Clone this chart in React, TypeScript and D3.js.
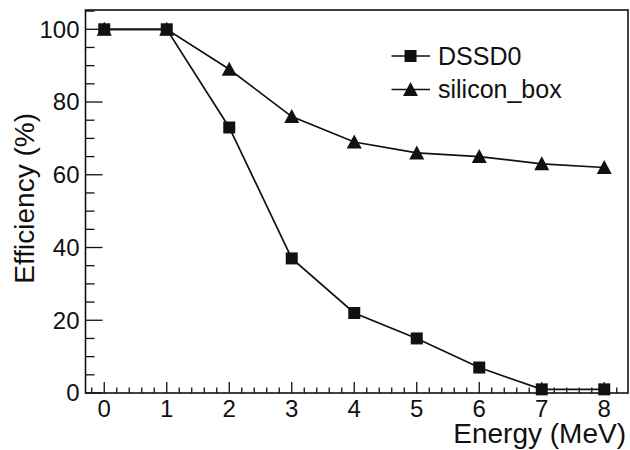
import React, { useEffect, useRef } from 'react';
import * as d3 from 'd3';

const energies = [0, 1, 2, 3, 4, 5, 6, 7, 8];
const dssd0 = [100, 100, 73, 37, 22, 15, 7, 1, 1];
const siliconBox = [100, 100, 89, 76, 69, 66, 65, 63, 62];
const seriesNames = ['DSSD0', 'silicon_box'];
const xTicks = [0, 1, 2, 3, 4, 5, 6, 7, 8];
const yTicks = [0, 20, 40, 60, 80, 100];

function App() {
    const ref = useRef(null);

    useEffect(() => {
        const width = 630, height = 450;
        const svg = d3.select(ref.current);
        svg.selectAll('*').remove();
        svg.attr('width', width).attr('height', height);

        const ink = '#111';
        const font = "'Liberation Sans', Arial, sans-serif";
        const left = 85.5, right = 628, top = 10, bottom = 393;

        const x = d3.scaleLinear().domain([-0.3, 8.38]).range([left, right]);
        const y = d3.scaleLinear().domain([0, 105.3]).range([bottom, top]);

        // frame
        svg.append('rect')
            .attr('x', left).attr('y', top)
            .attr('width', right - left).attr('height', bottom - top)
            .attr('fill', 'none').attr('stroke', ink).attr('stroke-width', 1.6);

        // x ticks (major + minor every 0.2)
        const xMinor = d3.range(-0.2, 8.3, 0.2).map(v => Math.round(v * 10) / 10)
            .filter(v => !xTicks.includes(v));
        const g = svg.append('g').attr('stroke', ink).attr('stroke-width', 1.3);
        g.selectAll('.xmaj').data(xTicks).enter().append('line')
            .attr('x1', d => x(d)).attr('x2', d => x(d))
            .attr('y1', bottom).attr('y2', bottom - 11);
        g.selectAll('.xmin').data(xMinor).enter().append('line')
            .attr('x1', d => x(d)).attr('x2', d => x(d))
            .attr('y1', bottom).attr('y2', bottom - 5.5);

        // y ticks (major + minor every 5)
        const yMinor = d3.range(5, 106, 5).filter(v => v % 20 !== 0);
        g.selectAll('.ymaj').data(yTicks).enter().append('line')
            .attr('x1', left).attr('x2', left + 17)
            .attr('y1', d => y(d)).attr('y2', d => y(d));
        g.selectAll('.ymin').data(yMinor).enter().append('line')
            .attr('x1', left).attr('x2', left + 9)
            .attr('y1', d => y(d)).attr('y2', d => y(d));

        // tick labels
        svg.selectAll('.xlab').data(xTicks).enter().append('text')
            .attr('x', d => x(d)).attr('y', 417)
            .attr('text-anchor', 'middle')
            .style('font-family', font).style('font-size', '24px').attr('fill', ink)
            .text(d => d);
        svg.selectAll('.ylab').data(yTicks).enter().append('text')
            .attr('x', 79.5).attr('y', d => y(d) + 8.4)
            .attr('text-anchor', 'end')
            .style('font-family', font).style('font-size', '24px').attr('fill', ink)
            .text(d => d);

        // axis titles
        svg.append('text')
            .attr('x', 626).attr('y', 443)
            .attr('text-anchor', 'end')
            .style('font-family', font).style('font-size', '28px').attr('fill', ink)
            .text('Energy (MeV)');
        svg.append('text')
            .attr('transform', 'translate(33.5,113) rotate(-90)')
            .attr('text-anchor', 'end')
            .style('font-family', font).style('font-size', '28px').attr('fill', ink)
            .text('Efficiency (%)');

        // curves
        const line = d3.line().x(d => x(d[0])).y(d => y(d[1]));
        const sqPts = energies.map((e, i) => [e, dssd0[i]]);
        const trPts = energies.map((e, i) => [e, siliconBox[i]]);

        const triangle = (s) => `M0,${-s * 0.5}L${s * 0.5},${s * 0.43}L${-s * 0.5},${s * 0.43}Z`;
        const square = d3.symbol().type(d3.symbolSquare).size(144)();

        svg.append('path').attr('d', line(trPts))
            .attr('fill', 'none').attr('stroke', ink).attr('stroke-width', 1.7);
        svg.append('path').attr('d', line(sqPts))
            .attr('fill', 'none').attr('stroke', ink).attr('stroke-width', 1.7);

        svg.selectAll('.tri').data(trPts).enter().append('path')
            .attr('transform', d => `translate(${x(d[0])},${y(d[1])})`)
            .attr('d', triangle(15)).attr('fill', ink);
        svg.selectAll('.sq').data(sqPts).enter().append('path')
            .attr('transform', d => `translate(${x(d[0])},${y(d[1])})`)
            .attr('d', square).attr('fill', ink);

        // legend
        const legend = svg.append('g');
        const rows = [{ name: seriesNames[0], y: 56, mark: square }, { name: seriesNames[1], y: 89.5, mark: triangle(15) }];
        rows.forEach(r => {
            legend.append('line')
                .attr('x1', 391.5).attr('x2', 430).attr('y1', r.y).attr('y2', r.y)
                .attr('stroke', ink).attr('stroke-width', 1.7);
            legend.append('path')
                .attr('transform', `translate(410.5,${r.y})`)
                .attr('d', r.mark).attr('fill', ink);
            legend.append('text')
                .attr('x', 438).attr('y', r.y + 8.5)
                .style('font-family', font).style('font-size', '25px').attr('fill', ink)
                .text(r.name);
        });
    }, []);

    return (
        <svg ref={ref} style={{ position: 'absolute', left: 0, top: 0 }}></svg>
    );
}

export default App;
